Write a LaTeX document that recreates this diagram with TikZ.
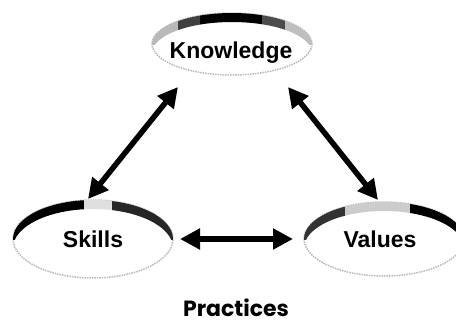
\documentclass[tikz,border=0pt]{standalone}
\usepackage{fontspec}
\setmainfont{Liberation Sans}
\newfontfamily\practfont{Poppins}
\usetikzlibrary{arrows.meta}
\tikzset{
  word/.style={font=\fontsize{23}{26}\selectfont\bfseries, inner sep=0pt},
  rim/.style={draw=gray!55, line width=1.5pt, dash pattern=on 1.5pt off 1pt},
  link/.style={
    {Triangle[length=20pt,width=20pt]}-{Triangle[length=20pt,width=20pt]},
    line width=5.5pt
  }
}
% piece of the dark top of a ring: cx, cy, x radius, y radius, from x, to x, colour
\newcommand\ringpart[7]{
  \begin{scope}
    \clip (#5,#2) rectangle (#6,#2+#4+3);
    \fill[even odd rule,#7] (#1,#2) ellipse [x radius=#3, y radius=#4]
      (#1,#2-9) ellipse [x radius=#3, y radius=#4];
  \end{scope}
}

\begin{document}
\begin{tikzpicture}[x=1pt,y=1pt]
  \useasboundingbox (0,0) rectangle (456,325);

  % rings
  \draw[rim] (232,281) ellipse [x radius=80, y radius=31];
  \ringpart{232}{281}{80}{31}{150}{178}{gray!55}
  \ringpart{232}{281}{80}{31}{178}{200}{black!75}
  \ringpart{232}{281}{80}{31}{200}{262}{black}
  \ringpart{232}{281}{80}{31}{262}{285}{black!70}
  \ringpart{232}{281}{80}{31}{285}{314}{gray!50}
  \draw[rim] (93,86) ellipse [x radius=80, y radius=39];
  \ringpart{93}{86}{80}{39}{11}{84}{black}
  \ringpart{93}{86}{80}{39}{84}{112}{gray!25}
  \ringpart{93}{86}{80}{39}{112}{175}{black!85}
  \draw[rim] (384,86) ellipse [x radius=80, y radius=37];
  \ringpart{384}{86}{80}{37}{302}{345}{black!80}
  \ringpart{384}{86}{80}{37}{345}{410}{gray!40}
  \ringpart{384}{86}{80}{37}{410}{466}{black}

  % labels
  \node[word] (know) at (231,272) {Knowledge};
  \node[word] (skill) at (93,86) {Skills};
  \node[word] (value) at (380,86) {Values};
  \node[font=\fontsize{22}{26}\selectfont\practfont\bfseries, inner sep=0pt] (pract) at (236,17) {Practices};

  % arrow ends
  \coordinate (k-s) at (178,238);
  \coordinate (s-k) at (88,126);
  \coordinate (k-v) at (288,238);
  \coordinate (v-k) at (378,125);
  \coordinate (s-v) at (180,86);
  \coordinate (v-s) at (293,86);

  \draw[link] (k-s) -- (s-k);
  \draw[link] (k-v) -- (v-k);
  \draw[link] (s-v) -- (v-s);
\end{tikzpicture}
\end{document}
